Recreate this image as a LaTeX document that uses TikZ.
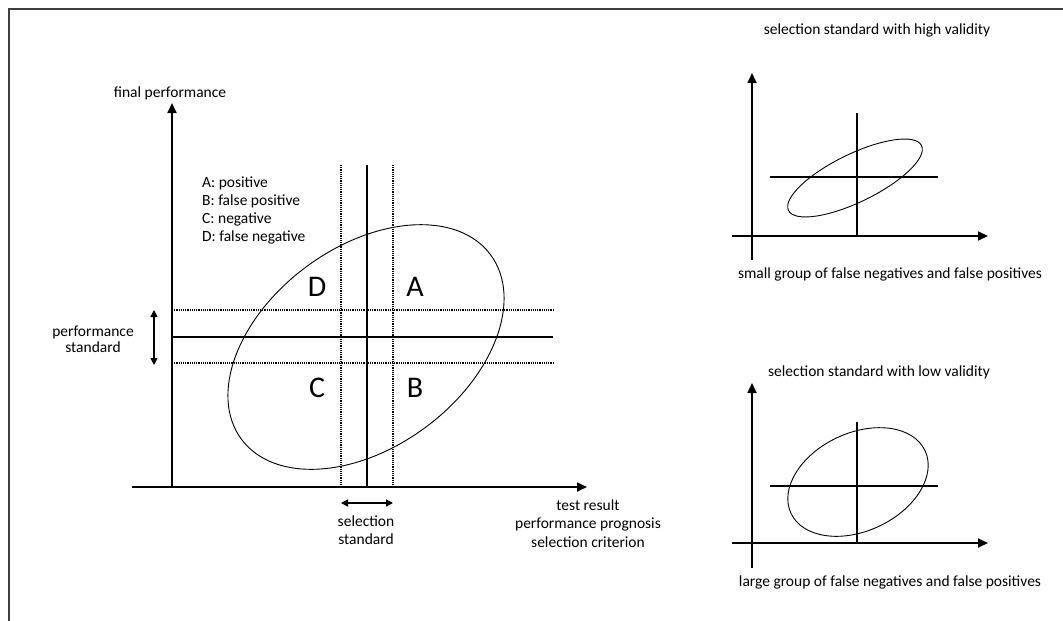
\documentclass[tikz,border=0pt]{standalone}
\usepackage{fontspec}
\setmainfont{Carlito}
\usetikzlibrary{arrows.meta,shapes.geometric}

\begin{document}
\begin{tikzpicture}[
    x=1pt, y=-1pt,
    axis/.style={line width=1.7pt, -{Triangle[length=10pt,width=9pt]}},
    cut/.style={line width=1.4pt},
    band/.style={line width=1.1pt, dash pattern=on 1.1pt off 1.1pt},
    span/.style={line width=1.4pt,
        {Triangle[length=7pt,width=7pt]}-{Triangle[length=7pt,width=7pt]}},
    oval/.style={draw, ellipse, line width=0.9pt, inner sep=0pt},
    txt/.style={font=\fontsize{15.5}{18.2}\selectfont, align=center, inner sep=0pt},
    quad/.style={font=\fontsize{30}{32}\selectfont, inner sep=0pt}
]
\useasboundingbox (0,0) rectangle (1063,621);
\draw[line width=1.5pt, black!75] (9,621) -- (9,9) -- (1063,9);

%==========================
% main chart
%==========================
\coordinate (yb) at (172,488);
\coordinate (yt) at (172,103);
\coordinate (xl) at (132,487);
\coordinate (xr) at (587,487);
\draw[axis] (yb) -- (yt);
\draw[axis] (xl) -- (xr);

\node[txt] (yname) at (170,93) {final performance};
\node[txt] (xname) at (588,523.5) {test result\\performance prognosis\\selection criterion};

\coordinate (sel-t) at (367,165);
\coordinate (sel-b) at (367,487);
\coordinate (sel1-t) at (341,165);
\coordinate (sel1-b) at (341,487);
\coordinate (sel2-t) at (393,165);
\coordinate (sel2-b) at (393,487);
\draw[cut] (sel-t) -- (sel-b);
\draw[band] (sel1-t) -- (sel1-b);
\draw[band] (sel2-t) -- (sel2-b);

\coordinate (perf-l) at (172,337);
\coordinate (perf-r) at (553,337);
\coordinate (perf1-l) at (172,310);
\coordinate (perf1-r) at (553,310);
\coordinate (perf2-l) at (172,363);
\coordinate (perf2-r) at (553,363);
\draw[cut] (perf-l) -- (perf-r);
\draw[band] (perf1-l) -- (perf1-r);
\draw[band] (perf2-l) -- (perf2-r);

\node[oval, minimum width=310pt, minimum height=200pt, rotate=36.5] (cloud) at (366,347) {};

\node[quad] (qd) at (317,287) {D};
\node[quad] (qa) at (415,287) {A};
\node[quad] (qc) at (317,388) {C};
\node[quad] (qb) at (415,388) {B};

\node[txt, anchor=west, align=left] (legend) at (202,210.5)
{A: positive\\B: false positive\\C: negative\\D: false negative};

% standards
\coordinate (ps-t) at (154,310);
\coordinate (ps-b) at (154,365);
\draw[span] (ps-t) -- (ps-b);
\node[txt, font=\fontsize{15.5}{16.5}\selectfont] (psname) at (93,339) {performance\\standard};

\coordinate (ss-l) at (341,503);
\coordinate (ss-r) at (393,503);
\draw[span] (ss-l) -- (ss-r);
\node[txt] (ssname) at (366,530.5) {selection\\standard};

%==========================
% high validity
%==========================
\node[txt] (hititle) at (877,30) {selection standard with high validity};
\coordinate (hy-b) at (752,260);
\coordinate (hy-t) at (752,73);
\coordinate (hx-l) at (732,236);
\coordinate (hx-r) at (988,236);
\draw[axis] (hy-b) -- (hy-t);
\draw[axis] (hx-l) -- (hx-r);
\coordinate (hv-t) at (857,113);
\coordinate (hv-b) at (857,236);
\coordinate (hh-l) at (770,177);
\coordinate (hh-r) at (938,177);
\draw[cut] (hv-t) -- (hv-b);
\draw[cut] (hh-l) -- (hh-r);
\node[oval, minimum width=148pt, minimum height=48pt, rotate=26] (hicloud) at (855,178) {};
\node[txt] (hinote) at (890,274) {small group of false negatives and false positives};

%==========================
% low validity
%==========================
\node[txt] (lotitle) at (879,372) {selection standard with low validity};
\coordinate (ly-b) at (752,568);
\coordinate (ly-t) at (752,383);
\coordinate (lx-l) at (732,543);
\coordinate (lx-r) at (988,543);
\draw[axis] (ly-b) -- (ly-t);
\draw[axis] (lx-l) -- (lx-r);
\coordinate (lv-t) at (857,422);
\coordinate (lv-b) at (857,543);
\coordinate (lh-l) at (770,486);
\coordinate (lh-r) at (938,486);
\draw[cut] (lv-t) -- (lv-b);
\draw[cut] (lh-l) -- (lh-r);
\node[oval, minimum width=148pt, minimum height=98pt, rotate=25] (locloud) at (858,482) {};
\node[txt] (lonote) at (890,582) {large group of false negatives and false positives};

\end{tikzpicture}
\end{document}
